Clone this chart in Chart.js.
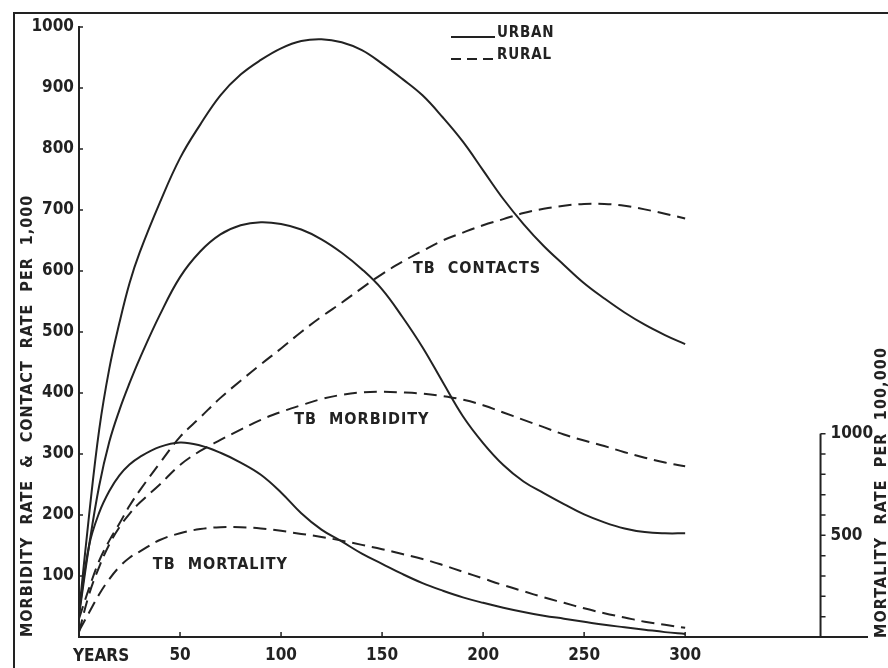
<!DOCTYPE html>
<html>
<head>
<meta charset="utf-8">
<script src="https://cdn.jsdelivr.net/npm/chart.js@4.4.1/dist/chart.umd.min.js"></script>
<style>
  html, body { margin: 0; padding: 0; background: #fff; }
  #c { display: block; }
</style>
</head>
<body>
<canvas id="c" width="888" height="668"></canvas>
<script>
// Years since urbanisation began
const years = [0, 5, 10, 15, 20, 25, 30, 40, 50, 60, 70, 80, 90, 100, 110, 120, 130, 140, 150,
  160, 170, 180, 190, 200, 210, 220, 230, 240, 250, 260, 270, 280, 290, 300];

// Contact and morbidity rates per 1,000 (left axis)
const urbanContacts = [40, 200, 340, 440, 515, 580, 630, 712, 785, 840, 888, 922, 946, 965, 977, 980,
  975, 962, 940, 915, 888, 852, 812, 765, 718, 677, 641, 610, 580, 555, 532, 512, 495, 480];
const ruralContacts = [30, 80, 125, 158, 186, 215, 240, 285, 328, 360, 392, 420, 447, 473, 500, 525,
  548, 572, 595, 615, 633, 650, 663, 675, 685, 695, 702, 707, 710, 710, 707, 701, 694, 686];
const urbanMorbidity = [35, 150, 248, 320, 372, 416, 456, 528, 590, 632, 660, 675, 680, 677, 668, 652,
  630, 603, 570, 525, 475, 418, 362, 318, 282, 255, 236, 218, 201, 188, 178, 172, 170, 170];
const ruralMorbidity = [8, 70, 115, 152, 180, 202, 220, 250, 282, 305, 323, 340, 356, 369, 380, 390,
  397, 401, 402, 401, 399, 395, 389, 380, 368, 356, 344, 332, 322, 313, 303, 294, 286, 280];

// Mortality rates per 100,000 (right axis)
const urbanMortality = [120, 450, 612, 718, 795, 848, 885, 935, 957, 942, 906, 858, 798, 711, 609, 528,
  470, 410, 360, 310, 265, 228, 195, 168, 144, 123, 105, 90, 75, 60, 48, 36, 24, 15];
const ruralMortality = [30, 120, 210, 285, 345, 390, 420, 477, 510, 531, 540, 540, 534, 522, 507, 492,
  474, 453, 432, 408, 384, 354, 321, 288, 255, 225, 195, 168, 141, 117, 96, 75, 60, 45];

// Axis ticks
const yearTicks = [50, 100, 150, 200, 250, 300];
const rateTicks = [100, 200, 300, 400, 500, 600, 700, 800, 900, 1000];
const mortalityTickLabels = [500, 1000];
const mortalityMinorStep = 100;

// Texts
const leftTitle = 'MORBIDITY  RATE  &  CONTACT  RATE  PER  1,000';
const rightTitle = 'MORTALITY  RATE  PER  100,000';
const xStartLabel = 'YEARS';
const legendItems = [
  { label: 'URBAN', dashed: false },
  { label: 'RURAL', dashed: true }
];
const curveLabels = [
  { text: 'TB  CONTACTS', x: 197, y: 603 },
  { text: 'TB  MORBIDITY', x: 140, y: 356 },
  { text: 'TB  MORTALITY', x: 70, y: 118 }
];

const INK = '#222222';
const FONT = '"DejaVu Sans Condensed", "DejaVu Sans", sans-serif';
const DASH = [13, 7];
const MORT_AXIS_YEAR = 367;

const toPoints = (vals) => years.map((yr, i) => ({ x: yr, y: vals[i] }));

function series(label, vals, dashed, axis) {
  return {
    label,
    data: toPoints(vals),
    yAxisID: axis,
    borderColor: INK,
    borderWidth: 2,
    borderDash: dashed ? DASH : [],
    pointRadius: 0,
    fill: false,
    tension: 0.4
  };
}

// Frame, tick marks, secondary axis, titles, legend and curve names
const decorations = {
  id: 'decorations',
  afterDraw(chart) {
    const ctx = chart.ctx;
    const xs = chart.scales.x, ys = chart.scales.y, ys2 = chart.scales.y2;
    const area = chart.chartArea;
    ctx.save();
    ctx.strokeStyle = INK;
    ctx.fillStyle = INK;

    // outer frame
    ctx.lineWidth = 2;
    ctx.beginPath();
    ctx.moveTo(14, 668);
    ctx.lineTo(14, 13);
    ctx.lineTo(888, 13);
    ctx.stroke();

    // inward tick marks
    ctx.lineWidth = 1.5;
    ctx.beginPath();
    yearTicks.forEach(v => {
      const px = xs.getPixelForValue(v);
      ctx.moveTo(px, area.bottom);
      ctx.lineTo(px, area.bottom - 5);
    });
    rateTicks.forEach(v => {
      const py = ys.getPixelForValue(v);
      ctx.moveTo(area.left, py);
      ctx.lineTo(area.left + 4, py);
    });
    ctx.stroke();

    // mortality axis
    const ax = xs.getPixelForValue(MORT_AXIS_YEAR);
    const top = ys2.getPixelForValue(mortalityTickLabels[mortalityTickLabels.length - 1]);
    ctx.lineWidth = 2;
    ctx.beginPath();
    ctx.moveTo(ax, area.bottom);
    ctx.lineTo(ax, top);
    ctx.stroke();
    ctx.lineWidth = 1.5;
    ctx.beginPath();
    for (let v = mortalityMinorStep; v <= 1000; v += mortalityMinorStep) {
      const py = ys2.getPixelForValue(v);
      ctx.moveTo(ax, py);
      ctx.lineTo(ax + 5, py);
    }
    ctx.stroke();

    ctx.font = 'bold 17px ' + FONT;
    ctx.textBaseline = 'middle';
    ctx.textAlign = 'left';
    mortalityTickLabels.forEach(v => {
      ctx.fillText(String(v), ax + 10, ys2.getPixelForValue(v));
    });

    // start label of the year axis
    ctx.fillText(xStartLabel, area.left - 6, 657);

    // rotated axis titles
    ctx.font = 'bold 16px ' + FONT;
    if ('letterSpacing' in ctx) ctx.letterSpacing = '1px';
    ctx.save();
    ctx.translate(28, area.bottom);
    ctx.rotate(-Math.PI / 2);
    ctx.textAlign = 'left';
    ctx.fillText(leftTitle, 0, 0);
    ctx.restore();
    if ('letterSpacing' in ctx) ctx.letterSpacing = '1.1px';
    ctx.save();
    ctx.translate(882, area.bottom + 1);
    ctx.rotate(-Math.PI / 2);
    ctx.textAlign = 'left';
    ctx.fillText(rightTitle, 0, 0);
    ctx.restore();

    // curve names
    if ('letterSpacing' in ctx) ctx.letterSpacing = '1px';
    ctx.textAlign = 'center';
    curveLabels.forEach(l => {
      ctx.fillText(l.text, xs.getPixelForValue(l.x), ys.getPixelForValue(l.y));
    });

    // legend
    if ('letterSpacing' in ctx) ctx.letterSpacing = '0.8px';
    ctx.font = 'bold 15px ' + FONT;
    ctx.textAlign = 'left';
    legendItems.forEach((item, i) => {
      const ty = 33 + i * 22;
      const ly = ty + 4;
      ctx.lineWidth = 2;
      ctx.setLineDash(item.dashed ? [10, 6] : []);
      ctx.beginPath();
      ctx.moveTo(451, ly);
      ctx.lineTo(495, ly);
      ctx.stroke();
      ctx.setLineDash([]);
      ctx.fillText(item.label, 497, ty);
    });
    ctx.restore();
  }
};

new Chart(document.getElementById('c'), {
  type: 'line',
  data: {
    datasets: [
      series('Urban contacts', urbanContacts, false, 'y'),
      series('Rural contacts', ruralContacts, true, 'y'),
      series('Urban morbidity', urbanMorbidity, false, 'y'),
      series('Rural morbidity', ruralMorbidity, true, 'y'),
      series('Urban mortality', urbanMortality, false, 'y2'),
      series('Rural mortality', ruralMortality, true, 'y2')
    ]
  },
  options: {
    responsive: false,
    animation: false,
    devicePixelRatio: 1,
    layout: { padding: { left: 0, right: 21, top: 27, bottom: 0 } },
    plugins: { legend: { display: false }, tooltip: { enabled: false } },
    scales: {
      x: {
        type: 'linear',
        min: 0,
        max: 390,
        grid: { display: false, drawTicks: false },
        border: { display: true, color: INK, width: 2 },
        ticks: {
          stepSize: 50,
          autoSkip: false,
          maxRotation: 0,
          padding: 8,
          color: INK,
          font: { family: FONT, size: 17, weight: 'bold' },
          callback: (v) => (yearTicks.includes(v) ? String(v) : '')
        },
        afterFit(s) { s.height = 31; }
      },
      y: {
        min: 0,
        max: 1000,
        grid: { display: false, drawTicks: false },
        border: { display: true, color: INK, width: 2 },
        ticks: {
          stepSize: 100,
          padding: 5,
          color: INK,
          font: { family: FONT, size: 17, weight: 'bold' },
          callback: (v) => (rateTicks.includes(v) ? String(v) : '')
        },
        afterFit(s) { s.width = 79; }
      },
      y2: { display: false, min: 0, max: 3000 }
    }
  },
  plugins: [decorations]
});
</script>
</body>
</html>
